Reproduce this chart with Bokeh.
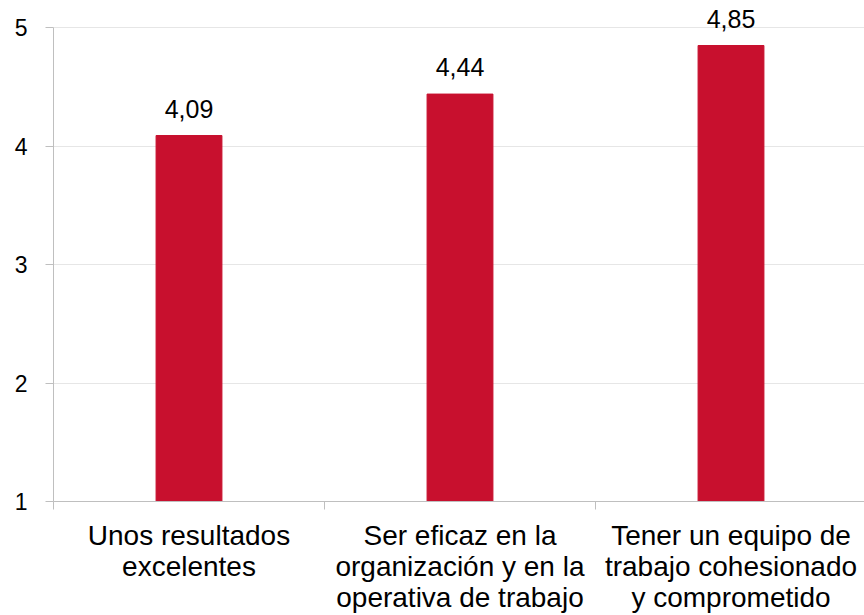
from bokeh.plotting import figure
from bokeh.models import Range1d, FixedTicker, ColumnDataSource
from bokeh.embed import file_html
from bokeh.resources import INLINE
from bokeh.core.properties import value

categories = [
    "Unos resultados\nexcelentes",
    "Ser eficaz en la\norganización y en la\noperativa de trabajo",
    "Tener un equipo de\ntrabajo cohesionado\ny comprometido",
]
values = [4.09, 4.44, 4.85]
y_ticks = [1, 2, 3, 4, 5]

FONT = "Liberation Sans"
BAR = "#C8102E"
AX = "#bfbfbf"

xpos = [i + 0.5 for i in range(len(categories))]
labels = [f"{v:.2f}".replace(".", ",") for v in values]
src = ColumnDataSource(dict(x=xpos, top=values, label=labels))

# extra headroom above 5 so the value labels are not clipped; axis line bounded to 1..5
p = figure(width=864, height=615, output_backend="svg", toolbar_location=None,
           x_range=Range1d(0, len(categories) * 811 / 813),
           y_range=Range1d(y_ticks[0], y_ticks[-1] + 0.23),
           min_border_left=53, min_border_right=0, min_border_top=0,
           min_border_bottom=0,
           background_fill_color="white", border_fill_color="white")
p.outline_line_color = None

p.vbar(x="x", top="top", bottom=1, width=0.243, source=src,
       fill_color=BAR, line_color=BAR)
p.text(x="x", y="top", text="label", source=src, text_align="center",
       text_baseline="alphabetic", y_offset=-27, text_font=value(FONT),
       text_font_size="25px", text_color="black")

p.xgrid.grid_line_color = None
p.ygrid.grid_line_color = "#e6e6e6"
p.ygrid.ticker = FixedTicker(ticks=y_ticks)

xa = p.xaxis[0]
xa.ticker = FixedTicker(ticks=xpos, minor_ticks=[0, 1, 2, 3])
xa.major_label_overrides = {x: c for x, c in zip(xpos, categories)}
xa.major_tick_line_color = None
xa.major_tick_out = 8
xa.major_tick_in = 0
xa.minor_tick_out = 8
xa.minor_tick_in = 0
xa.minor_tick_line_color = AX
xa.axis_line_color = AX
xa.major_label_text_font = FONT
xa.major_label_text_font_size = "28px"
xa.major_label_text_line_height = 1.0
xa.major_label_text_color = "black"
xa.major_label_standoff = 10

ya = p.yaxis[0]
ya.ticker = FixedTicker(ticks=y_ticks)
ya.bounds = (y_ticks[0], y_ticks[-1])
ya.major_tick_out = 8
ya.major_tick_in = 0
ya.major_tick_line_color = AX
ya.minor_tick_line_color = None
ya.axis_line_color = AX
ya.major_label_text_font = FONT
ya.major_label_text_font_size = "23px"
ya.major_label_text_color = "black"
ya.major_label_standoff = 18

open("out.html", "w").write(file_html(p, INLINE))
